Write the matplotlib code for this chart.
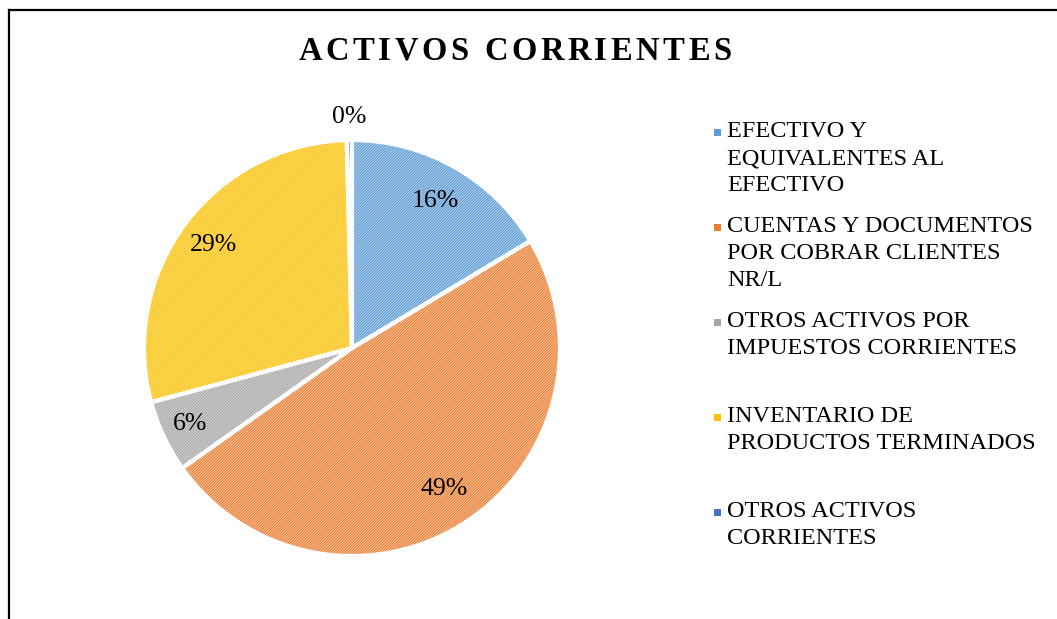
import numpy as np
import matplotlib.pyplot as plt
from matplotlib.lines import Line2D
from matplotlib.colors import to_rgb

plt.rcParams['font.family'] = ['Liberation Serif', 'DejaVu Serif']
plt.rcParams['hatch.linewidth'] = 0.9

# datos
categorias = ['EFECTIVO Y\nEQUIVALENTES AL\nEFECTIVO',
              'CUENTAS Y DOCUMENTOS\nPOR COBRAR CLIENTES\nNR/L',
              'OTROS ACTIVOS POR\nIMPUESTOS CORRIENTES',
              'INVENTARIO DE\nPRODUCTOS TERMINADOS',
              'OTROS ACTIVOS\nCORRIENTES']
valores = [16.4, 48.8, 5.6, 28.8, 0.4]
etiquetas = ['16%', '49%', '6%', '29%', '0%']
colores = ['#5B9BD5', '#ED7D31', '#A5A5A5', '#FFC000', '#4472C4']
titulo = 'ACTIVOS CORRIENTES'


def aclarar(c, f=0.72):
    r, g, b = to_rgb(c)
    return (r + (1-r)*f, g + (1-g)*f, b + (1-b)*f)


W, H = 1057, 619
fig = plt.figure(figsize=(W/100, H/100), dpi=100)
ax = fig.add_axes([0.1362, 0.1018, 0.3936, 0.672])

# relleno con trama
cunas, _ = ax.pie(valores, startangle=90, counterclock=False,
                  colors=[aclarar(c) for c in colores],
                  wedgeprops=dict(linewidth=0, hatch='/'*12))
for w, c in zip(cunas, colores):
    w.set_edgecolor(c)
    w.set_linewidth(0)

# bordes blancos
ax.pie(valores, startangle=90, counterclock=False,
       colors=['none']*len(valores),
       wedgeprops=dict(linewidth=3, edgecolor='white'))

ax.set_aspect('equal')
ax.set_xlim(-1.0, 1.0)
ax.set_ylim(-1.0, 1.0)

# etiquetas de porcentaje
dist = [0.81, 0.81, 0.86, 0.83, 1.11]
for w, t, d in zip(cunas, etiquetas, dist):
    ang = np.deg2rad((w.theta1 + w.theta2) / 2)
    ax.text(d*np.cos(ang), d*np.sin(ang), t, ha='center', va='center',
            fontsize=18.5, color='black')

# titulo con letras espaciadas (se coloca letra a letra)
rend = fig.canvas.get_renderer()
track = 3.5
anchos = []
for ch in titulo:
    if ch == ' ':
        anchos.append(9.0)
        continue
    t = fig.text(0, 0, ch, fontsize=23.5, fontweight='bold')
    anchos.append(t.get_window_extent(rend).width)
    t.remove()
total = sum(anchos) + track*(len(titulo)-1)
xp = 515 - total/2
for ch, a in zip(titulo, anchos):
    if ch != ' ':
        fig.text(xp/W, 1 - 51/H, ch, ha='left', va='center',
                 fontsize=23.5, fontweight='bold')
    xp += a + track

# leyenda
x0 = 727/W
for i, (cat, c) in enumerate(zip(categorias, colores)):
    ytop = 1 - (121 + 95*i)/H
    ymark = 1 - (132 + 95*i)/H
    fig.patches.append(plt.Rectangle((x0 - 13/W, ymark - 3.5/H), 7/W, 7/H,
                                     transform=fig.transFigure, facecolor=c,
                                     edgecolor='none'))
    fig.text(x0, ytop, cat, ha='left', va='top', fontsize=17.5, linespacing=1.38)

# marco
fig.add_artist(Line2D([8.5/W, 8.5/W], [0, 1 - 10/H], color='black', lw=1.6))
fig.add_artist(Line2D([8.5/W, 1], [1 - 10/H, 1 - 10/H], color='black', lw=1.6))

fig.savefig('out.png', dpi=100)
